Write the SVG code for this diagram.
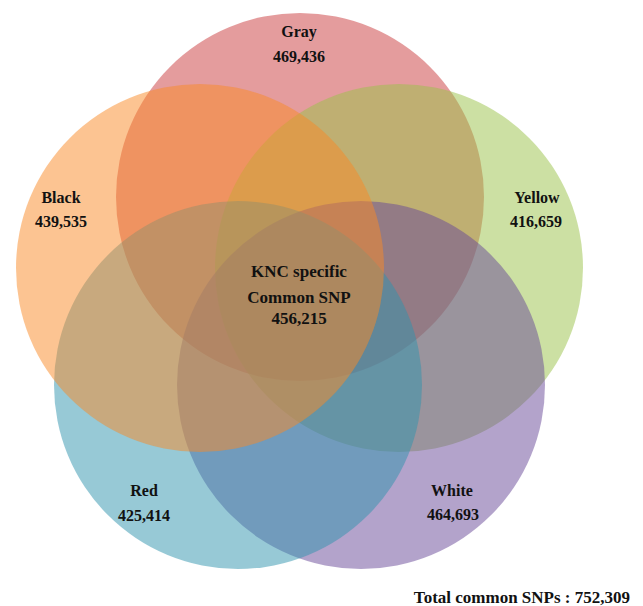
<svg xmlns="http://www.w3.org/2000/svg" width="643" height="606" viewBox="0 0 643 606">
<style>
.c{fill-opacity:0.5;stroke:none}
.t{font-family:"Liberation Serif","Times New Roman",serif;font-weight:bold;fill:#111;text-anchor:middle;font-size:16px}
.m{font-size:17px}
</style>
<rect width="643" height="606" fill="#ffffff"/>
<g id="gray"><circle class="c" cx="300" cy="197" r="184" fill="#C9393B"/></g>
<g id="yellow"><circle class="c" cx="399" cy="268" r="184" fill="#99C147"/></g>
<g id="white"><circle class="c" cx="361" cy="385" r="184" fill="#674797"/></g>
<g id="red"><circle class="c" cx="238" cy="385" r="184" fill="#2F93AD"/></g>
<g id="black"><circle class="c" cx="200" cy="268" r="184" fill="#F98925"/></g>
<g id="connectors"></g>
<g id="labels">
<text class="t" x="299" y="37">Gray</text>
<text class="t" x="299" y="62">469,436</text>
<text class="t" x="61" y="203">Black</text>
<text class="t" x="61" y="227">439,535</text>
<text class="t" x="537" y="203">Yellow</text>
<text class="t" x="536" y="227">416,659</text>
<text class="t" x="144" y="496">Red</text>
<text class="t" x="144" y="521">425,414</text>
<text class="t" x="452" y="496">White</text>
<text class="t" x="453" y="520">464,693</text>
<text class="t m" x="299" y="277">KNC specific</text>
<text class="t m" x="299" y="303">Common SNP</text>
<text class="t m" x="299" y="324">456,215</text>
<text class="t" x="630" y="603" style="text-anchor:end;font-size:17px">Total common SNPs : 752,309</text>
</g>
</svg>
